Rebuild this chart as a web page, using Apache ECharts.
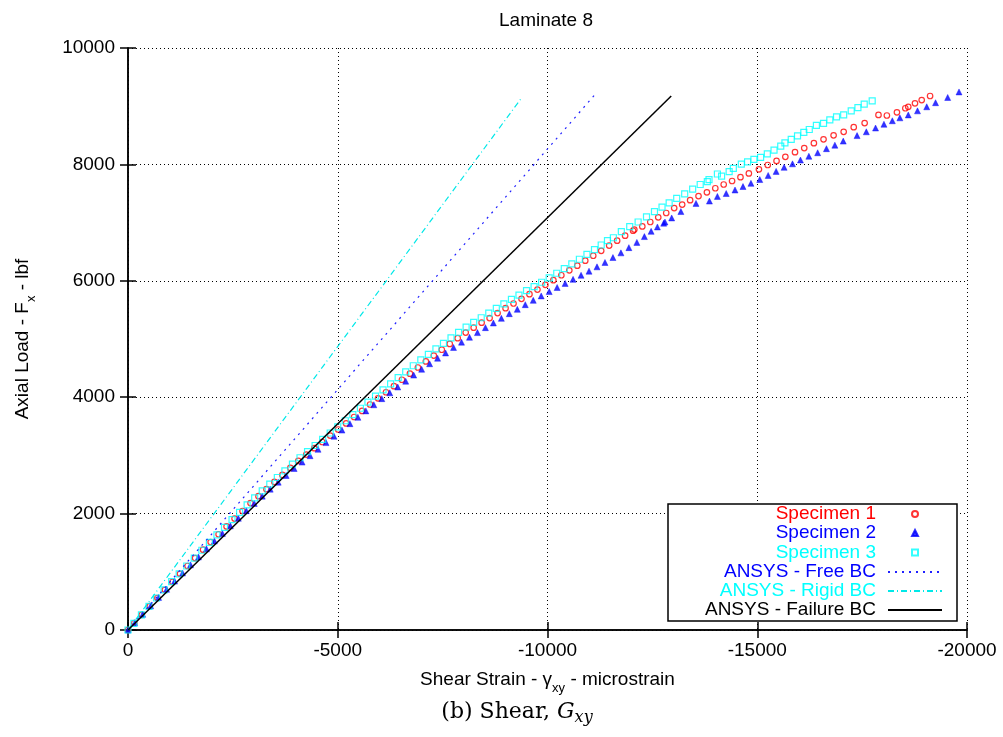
<!DOCTYPE html>
<html>
<head>
<meta charset="utf-8">
<title>Laminate 8</title>
<script src="https://cdn.jsdelivr.net/npm/echarts@6/dist/echarts.min.js"></script>
<style>
  html, body { margin: 0; padding: 0; background: #fff; }
  #chart { width: 1003px; height: 737px; }
</style>
</head>
<body>
<div id="chart"></div>
<script>
// shear strain (microstrain) vs axial load (lbf)
const specimen1 = [
  [0,0],[-150,120],[-330,260],[-520,410],[-700,550],[-880,690],[-1060,825],[-1240,965],[-1420,1100],
  [-1600,1235],[-1790,1380],[-1970,1510],[-2160,1645],[-2350,1780],[-2540,1915],[-2730,2045],[-2920,2180],
  [-3110,2300],[-3300,2420],[-3490,2545],[-3680,2665],[-3870,2785],[-4060,2905],[-4250,3015],[-4440,3125],
  [-4630,3230],[-4820,3340],[-5010,3445],[-5200,3550],[-5390,3660],[-5580,3765],[-5770,3875],[-5960,3980],
  [-6150,4085],[-6340,4190],[-6530,4300],[-6720,4405],[-6910,4510],[-7100,4615],[-7290,4715],[-7480,4815],
  [-7670,4915],[-7860,5015],[-8050,5110],[-8240,5195],[-8430,5280],[-8620,5360],[-8810,5445],[-9000,5530],
  [-9190,5610],[-9380,5690],[-9570,5770],[-9760,5850],[-9950,5930],[-10140,6010],[-10330,6095],[-10520,6180],
  [-10710,6260],[-10900,6345],[-11090,6430],[-11280,6515],[-11470,6605],[-11660,6690],[-11850,6775],
  [-12040,6860],[-12070,6880],[-12260,6935],[-12450,7010],[-12640,7090],[-12830,7165],[-13020,7250],
  [-13210,7310],[-13400,7385],[-13600,7455],[-13800,7520],[-14000,7590],[-14200,7655],[-14400,7715],
  [-14600,7780],[-14800,7845],[-15040,7915],[-15250,7990],[-15460,8060],[-15670,8130],[-15900,8210],
  [-16120,8280],[-16350,8365],[-16580,8430],[-16820,8500],[-17060,8560],[-17300,8640],[-17560,8710],
  [-17890,8850],[-18090,8840],[-18330,8895],[-18530,8965],[-18600,8990],[-18760,9050],[-18920,9105],[-19120,9175]
];
const specimen2 = [
  [0,0],[-160,125],[-350,270],[-540,415],[-730,560],[-920,700],[-1110,840],[-1300,980],[-1490,1120],
  [-1680,1255],[-1870,1395],[-2060,1530],[-2250,1660],[-2440,1790],[-2630,1920],[-2820,2050],[-3010,2175],
  [-3200,2300],[-3390,2420],[-3580,2540],[-3770,2655],[-3960,2775],[-4150,2885],[-4340,2995],[-4530,3105],
  [-4720,3220],[-4910,3330],[-5100,3435],[-5290,3545],[-5480,3655],[-5670,3765],[-5860,3870],[-6050,3975],
  [-6240,4075],[-6430,4175],[-6620,4275],[-6810,4380],[-7000,4480],[-7190,4575],[-7380,4670],[-7570,4760],
  [-7760,4855],[-7950,4945],[-8140,5030],[-8330,5110],[-8520,5195],[-8710,5275],[-8900,5355],[-9090,5435],
  [-9280,5510],[-9470,5590],[-9660,5665],[-9850,5740],[-10040,5815],[-10230,5885],[-10420,5955],[-10610,6025],
  [-10800,6095],[-10990,6165],[-11180,6240],[-11370,6315],[-11560,6400],[-11750,6480],[-11940,6570],
  [-12130,6660],[-12310,6760],[-12470,6850],[-12620,6925],[-12770,6990],[-12800,7010],[-12960,7080],
  [-13180,7190],[-13540,7330],[-13860,7370],[-14050,7450],[-14260,7500],[-14470,7560],[-14660,7620],
  [-14850,7675],[-15060,7740],[-15260,7810],[-15450,7880],[-15640,7950],[-15840,8010],[-16030,8075],
  [-16230,8140],[-16440,8200],[-16650,8270],[-16850,8330],[-17050,8400],[-17380,8495],[-17600,8560],
  [-17820,8625],[-18020,8690],[-18220,8750],[-18400,8800],[-18600,8850],[-18820,8920],[-19040,8990],
  [-19250,9060],[-19540,9150],[-19810,9245]
];
const specimen3 = [
  [0,0],[-140,115],[-320,260],[-500,405],[-680,550],[-860,690],[-1040,830],[-1220,965],[-1400,1100],
  [-1580,1235],[-1760,1370],[-1940,1505],[-2120,1635],[-2300,1765],[-2480,1895],[-2660,2020],[-2840,2150],
  [-3020,2270],[-3200,2390],[-3380,2505],[-3560,2620],[-3740,2735],[-3920,2850],[-4100,2960],[-4280,3065],
  [-4460,3170],[-4640,3275],[-4820,3385],[-5000,3490],[-5180,3595],[-5360,3700],[-5540,3810],[-5720,3915],
  [-5900,4020],[-6080,4125],[-6260,4230],[-6440,4335],[-6620,4435],[-6800,4540],[-6980,4640],[-7160,4735],
  [-7340,4830],[-7520,4925],[-7700,5020],[-7880,5115],[-8060,5205],[-8240,5285],[-8420,5365],[-8600,5445],
  [-8780,5525],[-8960,5605],[-9140,5680],[-9320,5755],[-9500,5830],[-9680,5900],[-9860,5975],[-10040,6050],
  [-10220,6130],[-10400,6210],[-10580,6290],[-10760,6370],[-10940,6455],[-11120,6535],[-11280,6615],
  [-11430,6690],[-11570,6740],[-11760,6845],[-11960,6930],[-12160,7010],[-12360,7100],[-12550,7190],
  [-12730,7265],[-12900,7340],[-13080,7415],[-13270,7495],[-13460,7575],[-13640,7655],[-13810,7705],
  [-13850,7740],[-14050,7835],[-14150,7800],[-14330,7875],[-14430,7930],[-14620,8005],[-14770,8045],
  [-14920,8085],[-15080,8120],[-15240,8180],[-15400,8245],[-15560,8315],[-15660,8370],[-15810,8430],
  [-15960,8490],[-16110,8550],[-16240,8600],[-16410,8670],[-16580,8705],[-16730,8765],[-16890,8815],
  [-17060,8850],[-17240,8920],[-17400,8975],[-17550,9035],[-17740,9090]
];
// ANSYS predictions (straight lines from the origin)
const ansysFree = [[0,0],[-11120,9190]];
const ansysRigid = [[0,0],[-9380,9140]];
const ansysFailure = [[0,0],[-12950,9175]];

const xTicks = [-20000, 0, 5000];   // min, max, step
const yTicks = [0, 10000, 2000];

const FONT = 'Liberation Sans';
const chart = echarts.init(document.getElementById('chart'));

const subRich = {
  sub: { fontSize: 13, lineHeight: 20, verticalAlign: 'bottom', fontFamily: FONT, color: '#000' }
};

// one legend per row so the text is right aligned like gnuplot's key
function keyRow(name, color, top, isLine) {
  return {
    data: [{ name: name, textStyle: { color: color } }],
    right: isLine ? 60 : 84, top: top, orient: 'vertical', align: 'right',
    padding: 0, itemWidth: isLine ? 54 : 6, itemHeight: isLine ? 0.1 : 6,
    selectedMode: false,
    textStyle: { fontSize: 19, fontFamily: FONT, lineHeight: 19, padding: [0, isLine ? 7 : 31, 0, 0] }
  };
}

const option = {
  animation: false,
  backgroundColor: '#fff',
  textStyle: { fontFamily: FONT },
  grid: { left: 125, right: 36, top: 48, bottom: 107 },
  xAxis: [
    {
      type: 'value', min: xTicks[0], max: xTicks[1], interval: xTicks[2], inverse: true,
      name: 'Shear Strain - γ{sub|xy} - microstrain',
      nameLocation: 'middle', nameGap: 33,
      nameTextStyle: { fontSize: 19, color: '#000', lineHeight: 30, fontFamily: FONT, rich: subRich },
      axisLine: { lineStyle: { color: '#000', width: 1.5 } },
      axisTick: { inside: true, length: 8, lineStyle: { color: '#000', width: 1.5 } },
      axisLabel: { fontSize: 19, color: '#000', margin: 11, formatter: v => String(v) },
      splitLine: { show: true, lineStyle: { color: '#000', width: 1, type: [1, 3] } }
    },
    {
      type: 'value', position: 'top', min: xTicks[0], max: xTicks[1], interval: xTicks[2], inverse: true,
      axisLine: { lineStyle: { color: '#000', width: 1.5 } },
      axisTick: { inside: true, length: 8, lineStyle: { color: '#000', width: 1.5 } },
      axisLabel: { show: false },
      splitLine: { show: false }
    }
  ],
  yAxis: [
    {
      type: 'value', min: yTicks[0], max: yTicks[1], interval: yTicks[2],
      name: 'Axial Load - F{sub|x} - lbf',
      nameLocation: 'middle', nameRotate: 90, nameGap: 90,
      nameTextStyle: { fontSize: 19, color: '#000', lineHeight: 30, fontFamily: FONT, rich: subRich },
      axisLine: { show: true, lineStyle: { color: '#000', width: 1.5 } },
      axisTick: { show: true, inside: true, length: 8, lineStyle: { color: '#000', width: 1.5 } },
      axisLabel: { fontSize: 19, color: '#000', margin: 13, formatter: v => String(v) },
      splitLine: { show: true, lineStyle: { color: '#000', width: 1, type: [1, 3] } }
    },
    {
      type: 'value', position: 'right', min: yTicks[0], max: yTicks[1], interval: yTicks[2],
      axisLine: { show: true, lineStyle: { color: '#000', width: 1.5 } },
      axisTick: { show: true, inside: true, length: 8, lineStyle: { color: '#000', width: 1.5 } },
      axisLabel: { show: false },
      splitLine: { show: false }
    }
  ],
  legend: [
    keyRow('Specimen 1', '#ff0000', 504.5, false),
    keyRow('Specimen 2', '#0000ff', 523.5, false),
    keyRow('Specimen 3', '#00ffff', 543, false),
    keyRow('ANSYS - Free BC', '#0000ff', 562.5, true),
    keyRow('ANSYS - Rigid BC', '#00ffff', 581.5, true),
    keyRow('ANSYS - Failure BC', '#000000', 600.5, true)
  ],
  graphic: [
    {
      type: 'rect', z: 3,
      shape: { x: 668, y: 504, width: 289, height: 117 },
      style: { fill: '#fff', stroke: '#000', lineWidth: 1.5 }
    },
    {
      type: 'text', x: 546, y: 21,
      style: { text: 'Laminate 8', fontSize: 19, fontFamily: FONT, fill: '#000', align: 'center', verticalAlign: 'middle' }
    },
    {
      type: 'text', x: 517, y: 712,
      style: {
        text: '(b) Shear, {i|G}{s|xy}',
        fontSize: 22, fontFamily: 'DejaVu Serif', fill: '#000', align: 'center', verticalAlign: 'middle',
        rich: {
          i: { fontSize: 22, fontStyle: 'italic', fontFamily: 'DejaVu Serif', lineHeight: 28, verticalAlign: 'middle' },
          s: { fontSize: 16, fontStyle: 'italic', fontFamily: 'DejaVu Serif', lineHeight: 18, verticalAlign: 'bottom' }
        }
      }
    }
  ],
  series: [
    {
      name: 'Specimen 1', type: 'scatter', data: specimen1,
      symbol: 'circle', symbolSize: 5.5,
      itemStyle: { color: 'rgba(255,255,255,0)', borderColor: '#ff0000', borderWidth: 1.2 }
    },
    {
      name: 'Specimen 2', type: 'scatter', data: specimen2,
      symbol: 'triangle', symbolSize: 6,
      itemStyle: { color: '#0000ff', borderColor: '#0000ff', borderWidth: 0.5 }
    },
    {
      name: 'Specimen 3', type: 'scatter', data: specimen3,
      symbol: 'rect', symbolSize: 6,
      itemStyle: { color: 'rgba(255,255,255,0)', borderColor: '#00ffff', borderWidth: 1.2 }
    },
    {
      name: 'ANSYS - Free BC', type: 'line', data: ansysFree, showSymbol: false, symbol: 'none',
      lineStyle: { color: '#2020ff', width: 1.2, type: [2, 5] }, itemStyle: { color: '#2020ff' }
    },
    {
      name: 'ANSYS - Rigid BC', type: 'line', data: ansysRigid, showSymbol: false, symbol: 'none',
      lineStyle: { color: '#00e8e8', width: 1.2, type: [6, 3, 1, 3] }, itemStyle: { color: '#00e8e8' }
    },
    {
      name: 'ANSYS - Failure BC', type: 'line', data: ansysFailure, showSymbol: false, symbol: 'none',
      lineStyle: { color: '#000', width: 1.5 }, itemStyle: { color: '#000' }
    }
  ]
};

chart.setOption(option);
</script>
</body>
</html>
